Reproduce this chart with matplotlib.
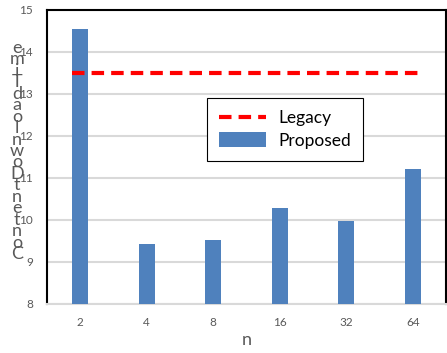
import numpy as np
import matplotlib
matplotlib.use("Agg")
import matplotlib.pyplot as plt

# data
categories = ["2", "4", "8", "16", "32", "64"]
proposed = [14.55, 9.42, 9.52, 10.29, 9.98, 11.21]
legacy = 13.5
ylabel = "Content Download Time"
xlabel = "n"

plt.rcParams["font.family"] = ["Lato", "DejaVu Sans"]
GRAY = "#595959"
BAR = "#4F81BD"
GRID = "#D9D9D9"

fig = plt.figure(figsize=(4.47, 3.53), dpi=100)
ax = fig.add_axes([47/447, 1-304/353, 399/447, 294/353])

x = np.arange(len(categories))
w = 0.24
ax.bar(x, proposed, width=w, color=BAR, zorder=3, label="Proposed")
ax.plot([x[0]-w/2, x[-1]+w*0.6], [legacy, legacy], color="#FF0000", lw=3,
        dashes=(3, 1.7), zorder=4, label="Legacy")

ax.set_xlim(-0.5, len(categories)-0.5)
ax.set_ylim(8, 15)
ax.set_yticks(range(8, 16))
ax.set_xticks(x)
ax.set_xticklabels(categories)
ax.yaxis.grid(True, color=GRID, lw=1.5, zorder=0)
ax.set_axisbelow(True)
ax.tick_params(length=0, labelsize=8.5, colors=GRAY, pad=10)
ax.tick_params(axis="x", pad=9)
for s in ("left", "top", "right"):
    ax.spines[s].set_color("black")
    ax.spines[s].set_linewidth(1.5)
ax.spines["bottom"].set_color(GRID)
ax.spines["bottom"].set_linewidth(1.5)

ax.set_xlabel(xlabel, fontsize=13, color=GRAY, labelpad=3)

# stacked y label (characters upright, bottom to top)
chars = [c for c in ylabel if c != " "]
ytop, ybot = 48, 254
for i, c in enumerate(chars):
    ypx = ybot - i*(ybot-ytop)/(len(chars)-1)
    fig.text(17/447, 1-ypx/353, c, fontsize=13, color=GRAY, ha="center", va="center")

leg = ax.legend(loc="upper left", bbox_to_anchor=(0.401, 0.701),
                fontsize=12.5, frameon=True, fancybox=False, framealpha=1,
                edgecolor="black", handlelength=2.7, handleheight=0.9,
                borderpad=0.7, labelspacing=0.35, handletextpad=0.7,
                borderaxespad=0)
leg.get_frame().set_linewidth(0.8)

fig.savefig("out.png", dpi=100)
